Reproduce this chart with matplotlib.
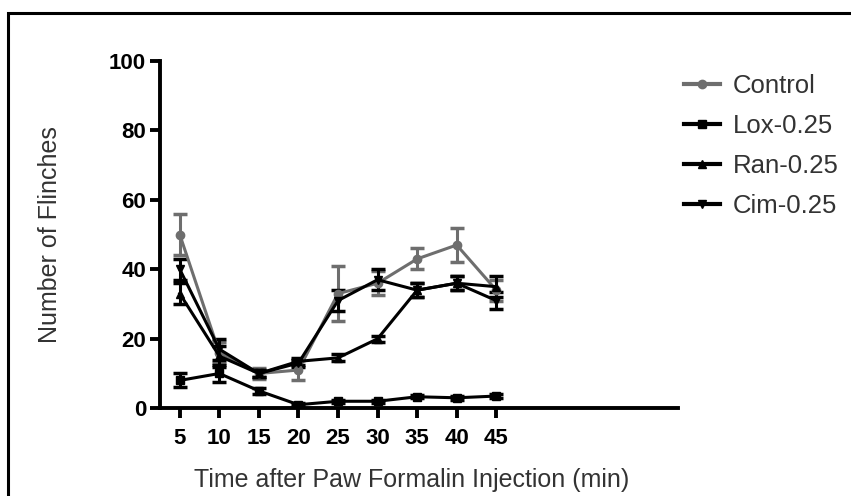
import matplotlib
matplotlib.use("Agg")
import matplotlib.pyplot as plt
from matplotlib.patches import Rectangle
from matplotlib.lines import Line2D

plt.rcParams['font.family'] = ['Liberation Sans', 'DejaVu Sans']

# data
times = [5, 10, 15, 20, 25, 30, 35, 40, 45]
control = [50, 16, 10, 11, 33, 36, 43, 47, 34]
control_err = [6, 3, 1.5, 3, 8, 3.5, 3, 5, 3]
lox = [8, 10, 5, 1, 2, 2, 3.3, 3, 3.5]
lox_err = [2, 2.5, 0.8, 0.5, 0.5, 0.5, 0.5, 0.5, 0.5]
ran = [33, 15, 10, 13.5, 14.5, 20, 34, 36, 35]
ran_err = [3, 3, 1, 1, 1, 0.8, 2, 2, 3]
cim = [40, 17, 10, 13, 31, 37, 34, 36, 31]
cim_err = [3, 3, 1, 1, 3, 3, 2, 2, 2.5]
labels = ["Control", "Lox-0.25", "Ran-0.25", "Cim-0.25"]

fig = plt.figure(figsize=(8.51, 4.96), dpi=100)
ax = fig.add_axes([0.188, 0.177, 0.609, 0.700])

# frame around the figure (only top/left visible in the crop)
fig.patches.append(Rectangle((0.0095, -0.1), 1.2, 1.074, transform=fig.transFigure,
                             fill=False, edgecolor='black', linewidth=2.2))

series = [
    (control, control_err, '#6e6e6e', 'o'),
    (lox, lox_err, 'black', 's'),
    (ran, ran_err, 'black', '^'),
    (cim, cim_err, 'black', 'v'),
]
handles = []
for (vals, errs, col, mk), lab in zip(series, labels):
    ax.errorbar(times, vals, yerr=errs, color=col, marker=mk, markersize=6,
                linewidth=2.2, elinewidth=2.2, capsize=5, capthick=2.5)
    handles.append(Line2D([], [], color=col, marker=mk, markersize=6, linewidth=3))

ax.set_xlim(2.5, 68)
ax.set_ylim(0, 100)
ax.set_xticks(times)
ax.set_yticks([0, 20, 40, 60, 80, 100])
for s in ['top', 'right']:
    ax.spines[s].set_visible(False)
for s in ['left', 'bottom']:
    ax.spines[s].set_linewidth(2.8)
ax.tick_params(width=2.8, length=7, labelsize=16, pad=3)
ax.tick_params(axis='x', pad=7)
for t in ax.get_xticklabels() + ax.get_yticklabels():
    t.set_fontweight('bold')

ax.set_xlabel("Time after Paw Formalin Injection (min)", fontsize=18, color='#333333', labelpad=11)
ax.set_ylabel("Number of Flinches", fontsize=18, color='#333333', labelpad=34)
ax.xaxis.set_label_coords(0.485, -0.172)

ax.legend(handles=handles, labels=labels, loc='upper left', bbox_to_anchor=(0.777, 0.898),
          bbox_transform=fig.transFigure, frameon=False, fontsize=18.5, handlelength=1.4,
          labelspacing=0.62, handletextpad=0.5, labelcolor='#333333')

fig.savefig("out.png", dpi=100)
